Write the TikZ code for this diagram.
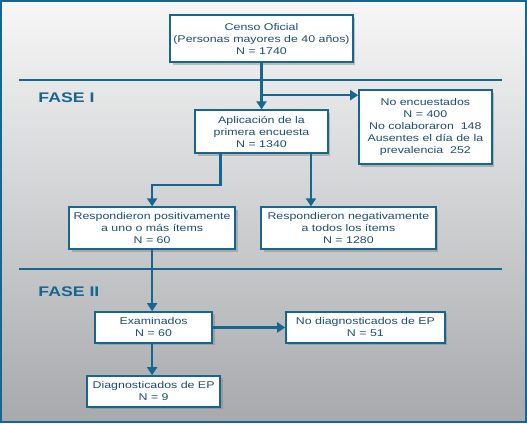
\documentclass[tikz,border=0pt]{standalone}
\usepackage{fontspec}
\setmainfont{Liberation Sans}[FakeStretch=1.27]
\usepackage{xcolor}
\usepackage{tikz}
\usetikzlibrary{arrows.meta,positioning,shadows,calc}
\definecolor{FaseBlue}{HTML}{17668F}
\definecolor{FaseText}{HTML}{1D4F72}
\definecolor{PanelTop}{HTML}{F7F7F7}
\definecolor{PanelBottom}{HTML}{A7A9AC}
\tikzset{
  flowarrow/.style={-{Triangle[length=8bp,width=10bp]}, line width=2.3bp, draw=FaseBlue},
  phaserule/.style={line width=2.2bp, draw=FaseBlue},
  phaselabel/.style={font=\fontsize{14}{16}\selectfont\bfseries, text=FaseBlue, anchor=west, inner sep=0pt}
}

\begin{document}
\begin{tikzpicture}[
  x=1bp, y=1bp,
  font=\fontsize{9.8}{12}\selectfont,
  stepbox/.style={draw=FaseBlue, line width=1.5bp, fill=white, text=FaseText, align=center,
    inner sep=1pt, drop shadow={shadow xshift=2.5bp, shadow yshift=-2.5bp, opacity=0.45}}
]
\path[shading=axis, top color=PanelTop, bottom color=PanelBottom, draw=FaseBlue, line width=2.5bp]
  (1,1) rectangle (526,422);
\useasboundingbox (0,0) rectangle (527,423);

\draw[phaserule] (19,343) -- (502,343);
\draw[phaserule] (19,154) -- (502,154);
\node[phaselabel] (fase1) at (38,325) {FASE I};
\node[phaselabel] (fase2) at (38,131) {FASE II};

\node[stepbox, minimum width=183bp, minimum height=47bp] (censo) at (261.5,384.5)
  {Censo Oficial\\(Personas mayores de 40 años)\\N = 1740};
\node[stepbox, minimum width=133bp, minimum height=43bp] (aplic) at (261.5,291.5)
  {Aplicación de la\\primera encuesta\\N = 1340};
\node[stepbox, minimum width=133bp, minimum height=74bp] (noenc) at (425.5,296)
  {No encuestados\\N = 400\\No colaboraron\ \ 148\\Ausentes el día de la\\prevalencia\ \ 252};
\node[stepbox, minimum width=166bp, minimum height=42bp] (pos) at (152,195)
  {Respondieron positivamente\\a uno o más ítems\\N = 60};
\node[stepbox, minimum width=175bp, minimum height=42bp] (neg) at (348.5,195)
  {Respondieron negativamente\\a todos los ítems\\N = 1280};
\node[stepbox, minimum width=117bp, minimum height=31bp] (exam) at (153.5,95.5)
  {Examinados\\N = 60};
\node[stepbox, minimum width=159bp, minimum height=31bp] (nodiag) at (365.5,95.5)
  {No diagnosticados de EP\\N = 51};
\node[stepbox, minimum width=133bp, minimum height=31bp] (diag) at (153.5,31.5)
  {Diagnosticados de EP\\N = 9};

\coordinate (split) at (261.5,328);
\coordinate (posout) at ($(aplic.south)+(-41,0)$);
\coordinate (negout) at ($(aplic.south)+(49.5,0)$);

\draw[flowarrow] (censo.south) -- (aplic.north);
\draw[flowarrow] (split) -- (split -| noenc.west);
\draw[flowarrow] (posout) -- ++(0,-31) -| (pos.north);
\draw[flowarrow] (negout) -- (negout |- neg.north);
\draw[flowarrow] (pos.south) -- (pos.south |- exam.north);
\draw[flowarrow] (exam.east) -- (nodiag.west);
\draw[flowarrow] (pos.south |- exam.south) -- (pos.south |- diag.north);
\end{tikzpicture}
\end{document}
